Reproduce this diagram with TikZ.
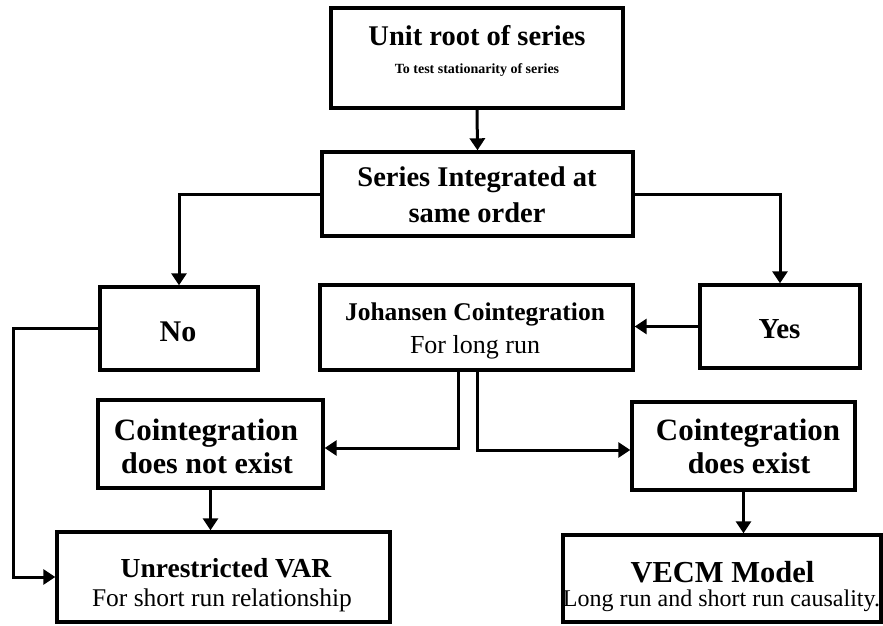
\documentclass[tikz,border=0pt]{standalone}
\usepackage{fontspec}
\setmainfont{Liberation Serif}
\usetikzlibrary{arrows.meta,calc}
\begin{document}
\begin{tikzpicture}[x=1pt,y=-1pt,
  box/.style={draw,line width=3.4pt,rectangle,inner sep=0pt},
  arr/.style={line width=3pt,-{Triangle[length=12pt,width=15pt]}},
  txt/.style={inner sep=0pt,anchor=base},
  bf/.style={font=\fontsize{#1}{#1}\selectfont\bfseries},
  rm/.style={font=\fontsize{#1}{#1}\selectfont}]
\useasboundingbox (0,0) rectangle (883,625);
% boxes
\node[box,minimum width=292pt,minimum height=100pt] (top) at (477,58) {};
\node[box,minimum width=311pt,minimum height=84pt] (ser) at (477.5,194) {};
\node[box,minimum width=158pt,minimum height=83pt] (no) at (179,328.5) {};
\node[box,minimum width=313pt,minimum height=85pt] (joh) at (476.5,327.5) {};
\node[box,minimum width=160pt,minimum height=83pt] (yes) at (780,326.5) {};
\node[box,minimum width=225pt,minimum height=88pt] (cne) at (210.5,444) {};
\node[box,minimum width=223pt,minimum height=88pt] (ce) at (743.5,446) {};
\node[box,minimum width=333pt,minimum height=90pt] (var) at (223.5,577) {};
\node[box,minimum width=318pt,minimum height=87pt] (vecm) at (722,578.5) {};
% texts
\node[txt,bf=28.5] (t1) at (477,45) {Unit root of series};
\node[txt,bf=14] (t2) at (477,73) {To test stationarity of series};
\node[txt,bf=28.5] (t3) at (477,186) {Series Integrated at};
\node[txt,bf=28.5] (t4) at (477,222) {same order};
\node[txt,bf=30] (t5) at (178,341) {No};
\node[txt,bf=29] (t6) at (779.5,338) {Yes};
\node[txt,bf=25.5] (t7) at (475,320) {Johansen Cointegration};
\node[txt,rm=26] (t8) at (475,353) {For long run};
\node[txt,bf=31] (t9) at (206,440) {Cointegration};
\node[txt,bf=30] (t10) at (207,473) {does not exist};
\node[txt,bf=31] (t11) at (748,440) {Cointegration};
\node[txt,bf=30] (t12) at (749,473) {does exist};
\node[txt,bf=27.5] (t13) at (226,577) {Unrestricted VAR};
\node[txt,rm=25.5] (t14) at (222,606) {For short run relationship};
\node[txt,bf=30.5] (t15) at (722.5,582) {VECM Model};
\node[txt,rm=24] (t16) at (721.5,606) {Long run and short run causality.};
% connectors
\coordinate (lc) at (13,0);
\draw[arr] (top.south) -- (ser.north);
\draw[arr] (ser.west) -| (no.north);
\draw[arr] (ser.east) -| (yes.north);
\draw[arr] (yes.west) -- (yes.west -| joh.east);
\draw[arr] (no.west) -- (no.west -| lc) |- (var.west);
\draw[arr] ($(joh.south)+(-18,0)$) |- ($(cne.east)+(0,4)$);
\draw[arr] ($(joh.south)+(1,0)$) |- ($(ce.west)+(0,4)$);
\draw[arr] (cne.south) -- (var.north -| cne.south);
\draw[arr] (ce.south) -- (ce.south |- vecm.north);
\end{tikzpicture}
\end{document}
